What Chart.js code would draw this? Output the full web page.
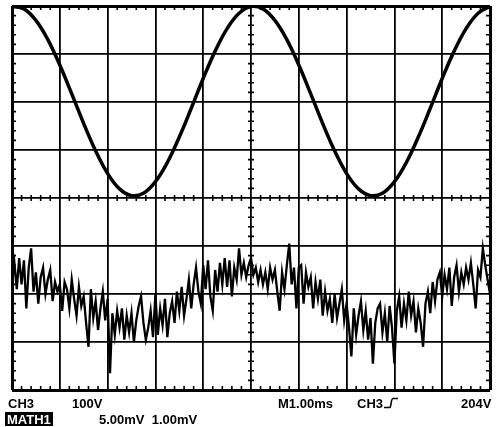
<!DOCTYPE html>
<html lang="en">
<head>
  <meta charset="UTF-8">
  <title>CH3 / MATH1</title>
  <script src="https://cdn.jsdelivr.net/npm/chart.js@4.4.0/dist/chart.umd.min.js"></script>
  <style>
    html, body { margin: 0; padding: 0; background: #fff; }
    #wrap { position: relative; width: 500px; height: 427px; }
    .lbl { position: absolute; font-family: "Liberation Sans", Arial, sans-serif; font-weight: bold;
           font-size: 13px; line-height: 13px; color: #000; white-space: pre; }
    .inv { background: #000; color: #fff; padding: 1px 2px 0 2px; }
  </style>
</head>
<body>
<div id="wrap">
  <canvas id="scope" width="500" height="427"></canvas>
  <div class="lbl" style="left:8px; top:397px;">CH3</div>
  <div class="lbl" style="left:72px; top:397px;">100V</div>
  <div class="lbl" style="left:278px; top:397px;">M1.00ms</div>
  <div class="lbl" style="left:357px; top:397px;">CH3</div>
  <svg style="position:absolute; left:383px; top:397px;" width="16" height="12">
    <path d="M1 10.5 H7 C8 10.5 8 1.5 10 1.5 H15" fill="none" stroke="#000" stroke-width="1.6"/>
  </svg>
  <div class="lbl" style="left:461px; top:397px;">204V</div>
  <div class="lbl inv" style="left:5px; top:412px;">MATH1</div>
  <div class="lbl" style="left:99px; top:413px;">5.00mV  1.00mV</div>
</div>
<script>
  // CH3 trace, divisions, one sample every 0.25 div
  var ch3Step = 0.25;
  var ch3 = [
    3.99, 3.94, 3.70, 3.30, 2.77, 2.17, 1.55, 0.98, 0.51, 0.19,
    0.05, 0.10, 0.34, 0.74, 1.27, 1.87, 2.49, 3.06, 3.53, 3.85,
    3.99, 3.94, 3.70, 3.30, 2.77, 2.17, 1.55, 0.98, 0.51, 0.19,
    0.05, 0.10, 0.34, 0.74, 1.27, 1.87, 2.49, 3.06, 3.53, 3.85,
    3.99
  ];

  // MATH1 trace, divisions relative to its own ground marker, one sample every 0.05 div
  var mathStep = 0.05;
  var mathOffset = -2;
  var math1 = [
    0.30, 0.65, 0.10, 0.75, 0.20, 0.70, -0.30, 0.55, 0.95, 0.05,
    0.45, -0.20, 0.35, 0.55, 0.00, 0.30, 0.50, -0.15, 0.25, 0.05,
    0.20, -0.35, 0.25, 0.10, -0.30, 0.30, -0.10, -0.45, 0.15, -0.25,
    -0.05, -0.60, -1.10, 0.10, -0.50, -0.15, -0.75, -0.30, 0.05, -0.55,
    -0.10, -1.65, -0.40, -0.85, -0.35, -0.70, -0.30, -0.95, -0.45, -0.80,
    -0.40, -1.00, -0.55, -0.25, -0.05, -0.60, -0.95, -0.70, -0.35, -0.90,
    0.00, -0.85, -0.30, -0.65, -0.10, -0.90, -0.40, -0.15, -0.60, 0.05,
    -0.35, 0.15, -0.45, -0.10, 0.30, -0.30, 0.20, 0.55, 0.05, -0.20,
    0.60, 0.10, 0.70, -0.05, -0.35, 0.50, 0.05, 0.65, 0.20, 0.75,
    0.15, 0.70, -0.05, 0.55, 0.30, 0.95, 0.40, 0.65, 0.35, 0.60,
    0.75, 0.40, 0.55, 0.25, 0.50, 0.20, 0.45, 0.10, 0.55, 0.30,
    0.50, 0.05, -0.35, 0.45, 0.10, 0.60, 1.05, 0.20, 0.55, -0.30,
    0.55, 0.60, -0.20, 0.45, 0.15, 0.35, -0.30, 0.25, -0.10, 0.30,
    -0.45, 0.05, -0.35, -0.10, -0.60, 0.00, -0.50, -0.20, 0.10, -0.55,
    -0.20, -0.70, -1.30, -0.30, -0.85, -0.45, -0.15, -0.75, -0.35, -0.95,
    -0.50, -1.45, -0.60, -0.30, -0.20, -0.80, -0.40, -1.00, -0.25, -0.70,
    -1.45, -0.35, -0.05, -0.70, -0.20, -0.55, 0.05, -0.45, -0.15, -0.80,
    -0.30, -0.60, -1.10, -0.20, 0.05, -0.40, 0.25, -0.15, 0.30, 0.45,
    -0.05, 0.40, 0.10, 0.55, -0.25, 0.35, 0.60, 0.05, 0.45, 0.20,
    0.55, 0.30, 0.65, 0.20, -0.30, 0.50, 0.35, 0.95, 0.60, 0.30, 0.00
  ];

  // graticule: 10 x 8 divisions
  var xDivs = [0, 10];
  var yDivs = [-4, 4];

  var ch3Points = ch3.map(function (v, i) { return { x: i * ch3Step, y: v }; });
  var mathPoints = math1.map(function (v, i) { return { x: i * mathStep, y: v + mathOffset }; });

  // small tick marks on the border and on the centre lines
  var minorTicks = {
    id: 'minorTicks',
    beforeDatasetsDraw: function (chart) {
      var c = chart.ctx, a = chart.chartArea;
      var xs = chart.scales.x, ys = chart.scales.y;
      var x0 = xs.getPixelForValue(5), y0 = ys.getPixelForValue(0);
      c.save();
      c.strokeStyle = '#000';
      c.lineWidth = 1.6;
      c.beginPath();
      for (var i = 1; i < 50; i++) {
        if (i % 5 === 0) continue;
        var px = xs.getPixelForValue(i * 0.2);
        c.moveTo(px, a.top); c.lineTo(px, a.top + 4);
        c.moveTo(px, a.bottom - 4); c.lineTo(px, a.bottom);
        c.moveTo(px, y0 - 3); c.lineTo(px, y0 + 3);
      }
      for (var j = 1; j < 40; j++) {
        if (j % 5 === 0) continue;
        var py = ys.getPixelForValue(-4 + j * 0.2);
        c.moveTo(a.left, py); c.lineTo(a.left + 4, py);
        c.moveTo(a.right - 4, py); c.lineTo(a.right, py);
        c.moveTo(x0 - 3, py); c.lineTo(x0 + 3, py);
      }
      c.stroke();
      c.restore();
    }
  };

  function gridWidth(ctx, lo, hi) {
    return (ctx.tick.value === lo || ctx.tick.value === hi) ? 3 : 1.8;
  }

  new Chart(document.getElementById('scope').getContext('2d'), {
    type: 'line',
    data: {
      datasets: [
        { label: 'CH3', data: ch3Points, borderColor: '#000', borderWidth: 3.5,
          pointRadius: 0, tension: 0.4, fill: false },
        { label: 'MATH1', data: mathPoints, borderColor: '#000', borderWidth: 2.3,
          pointRadius: 0, tension: 0, fill: false }
      ]
    },
    options: {
      responsive: false,
      animation: false,
      events: [],
      layout: { padding: { left: 12, top: 6, right: 10, bottom: 37 } },
      plugins: { legend: { display: false }, tooltip: { enabled: false } },
      scales: {
        x: {
          type: 'linear', min: xDivs[0], max: xDivs[1],
          ticks: { display: false, stepSize: 1 },
          grid: { color: '#000', drawTicks: false,
                  lineWidth: function (ctx) { return gridWidth(ctx, xDivs[0], xDivs[1]); } },
          border: { display: false }
        },
        y: {
          type: 'linear', min: yDivs[0], max: yDivs[1],
          ticks: { display: false, stepSize: 1 },
          grid: { color: '#000', drawTicks: false,
                  lineWidth: function (ctx) { return gridWidth(ctx, yDivs[0], yDivs[1]); } },
          border: { display: false }
        }
      }
    },
    plugins: [minorTicks]
  });
</script>
</body>
</html>
